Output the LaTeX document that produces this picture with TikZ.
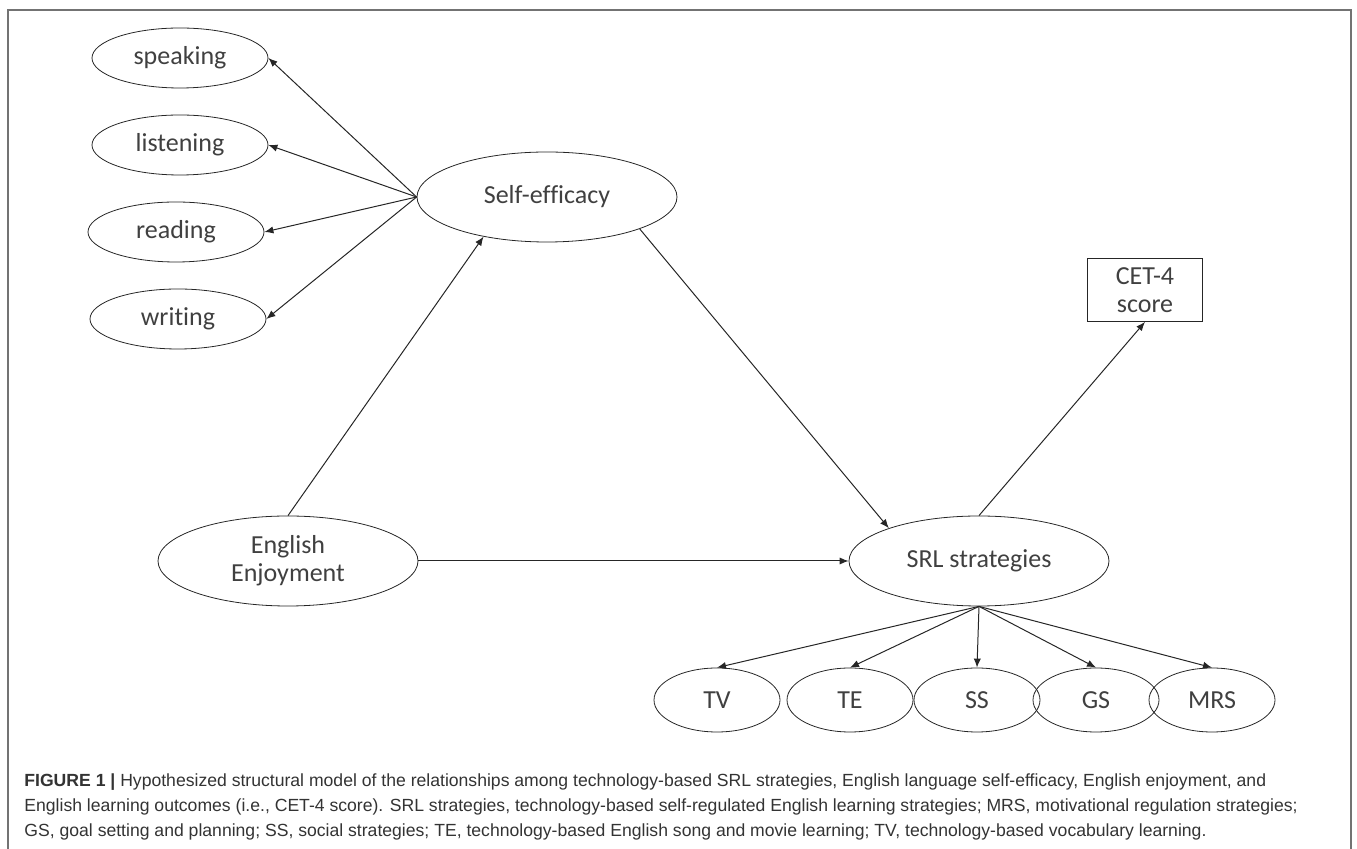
\documentclass[tikz,border=0pt]{standalone}
\usepackage{fontspec}
\setmainfont{Liberation Sans}
\newfontfamily\diagfont[Ligatures=NoCommon]{Carlito}
\usepackage{tikz}
\usetikzlibrary{shapes,arrows,arrows.meta,positioning}

\tikzset{
  lat/.style={draw=black!85, ellipse, inner sep=0pt, text=black!75,
    minimum width=88pt, minimum height=30pt, align=center,
    font=\diagfont\fontsize{13}{14}\selectfont},
  big/.style={lat, minimum width=130pt, minimum height=45pt},
  small/.style={lat, minimum width=63pt, minimum height=32pt},
  obs/.style={draw=black!85, rectangle, inner sep=0pt, text=black!75,
    minimum width=57.5pt, minimum height=31.5pt, align=center,
    font=\diagfont\fontsize{13}{14}\selectfont},
  path/.style={-{Latex[length=4.5pt,width=3.6pt]}, draw=black!85, line width=0.5pt}
}

\begin{document}
\begin{tikzpicture}[x=0.5pt,y=-0.5pt]

\useasboundingbox (0,0) rectangle (1357,849);

% frame
\draw[black!55, line width=0.8pt] (8,860) -- (8,10) -- (1351,10) -- (1351,860);

% skills
\node[lat] (speak) at (180,58) {speaking};
\node[lat] (listen) at (180,145) {listening};
\node[lat] (read) at (176,232) {reading};
\node[lat] (write) at (178,319) {writing};

\node[big] (se) at (547,197) {Self-efficacy};
\node[big] (ee) at (288,561) {English\\Enjoyment};
\node[big] (srl) at (979,561) {SRL strategies};

\node[obs] (cet) at (1145,290) {CET-4\\score};

% strategies
\node[small] (tv) at (717,700) {TV};
\node[small] (te) at (850,700) {TE};
\node[small] (ss) at (977,700) {SS};
\node[small] (gs) at (1096,700) {GS};
\node[small] (mrs) at (1212,700) {MRS};

\draw[path] (se.west) -- (speak.east);
\draw[path] (se.west) -- (listen.east);
\draw[path] (se.west) -- (read.east);
\draw[path] (se.west) -- (write.east);

\draw[path] (ee.north) -- (se.212);
\draw[path] (se.341) -- (srl.160);
\draw[path] (ee.east) -- (srl.west);
\draw[path] (srl.north) -- (cet.south);

\draw[path] (srl.south) -- (tv.north);
\draw[path] (srl.south) -- (te.north);
\draw[path] (srl.south) -- (ss.north);
\draw[path] (srl.south) -- (gs.north);
\draw[path] (srl.south) -- (mrs.north);

% caption
\node[anchor=base west, align=left, inner sep=0pt, text=black!80,
  font=\fontsize{8.8}{12.5}\selectfont] (cap) at (24,837)
  {\textbf{FIGURE 1 |} Hypothesized structural model of the relationships among technology-based SRL strategies, English language self-efficacy, English enjoyment, and\\
  English learning outcomes (i.e., CET-4 score). SRL strategies, technology-based self-regulated English learning strategies; MRS, motivational regulation strategies;\\
  GS, goal setting and planning; SS, social strategies; TE, technology-based English song and movie learning; TV, technology-based vocabulary learning.};

\end{tikzpicture}
\end{document}
